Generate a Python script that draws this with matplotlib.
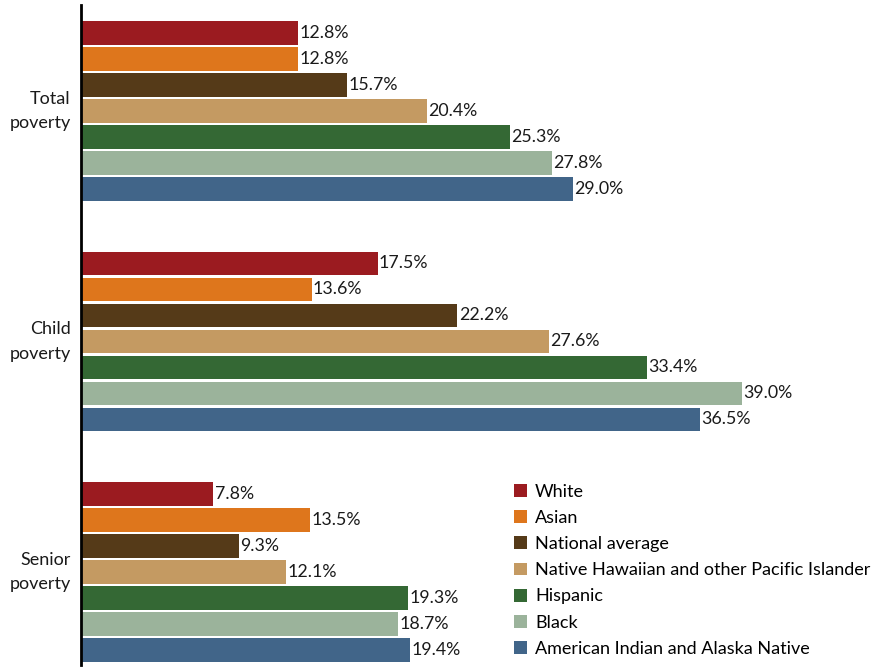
import matplotlib
matplotlib.use("Agg")
import matplotlib.pyplot as plt
from matplotlib.patches import Patch

plt.rcParams['font.family'] = ['Lato', 'DejaVu Sans']

categories = ["Total\npoverty", "Child\npoverty", "Senior\npoverty"]
series = ["White", "Asian", "National average",
          "Native Hawaiian and other Pacific Islander", "Hispanic", "Black",
          "American Indian and Alaska Native"]
values = {
    "White": [12.8, 17.5, 7.8],
    "Asian": [12.8, 13.6, 13.5],
    "National average": [15.7, 22.2, 9.3],
    "Native Hawaiian and other Pacific Islander": [20.4, 27.6, 12.1],
    "Hispanic": [25.3, 33.4, 19.3],
    "Black": [27.8, 39.0, 18.7],
    "American Indian and Alaska Native": [29.0, 36.5, 19.4],
}
colors = ["#9B1B20", "#DE761C", "#553A18", "#C49A62", "#346834", "#9BB39B", "#416589"]

W, H = 878, 671
fig = plt.figure(figsize=(W / 100, H / 100), dpi=100)
ax_left, ax_top, ax_bottom = 81, 5, 665
ax = fig.add_axes([ax_left / W, 1 - ax_bottom / H, 1 - ax_left / W, (ax_bottom - ax_top) / H])

group_step = 8.865
bar_h = 0.92
for i, (s, c) in enumerate(zip(series, colors)):
    ys = [g * group_step + i for g in range(len(categories))]
    ax.barh(ys, values[s], height=bar_h, color=c, label=s)
    for y, v in zip(ys, values[s]):
        ax.text(v + 0.08, y, f"{v:.1f}%", va="center", ha="left", fontsize=12.8, color="#1a1a1a")

for g, cat in enumerate(categories):
    ax.text(-0.6, g * group_step + 3, cat, ha="right", va="center", fontsize=13,
            color="#1a1a1a", linespacing=1.65)

ax.set_xlim(0, (W - ax_left) / 16.95)
top = -28 / 26
ax.set_ylim(top + (ax_bottom - ax_top) / 26, top)
for sp in ["top", "right", "bottom"]:
    ax.spines[sp].set_visible(False)
ax.spines["left"].set_linewidth(2)
ax.spines["left"].set_color("black")
ax.set_xticks([])
ax.set_yticks([])

handles = [Patch(facecolor=c, edgecolor="none") for c in colors]
fig.legend(handles, series, loc="upper left", bbox_to_anchor=(514 / W, 1 - 484 / H),
           frameon=False, fontsize=13, handlelength=0.72, handleheight=0.72,
           handletextpad=0.45, labelspacing=0.56, borderpad=0, borderaxespad=0)

fig.savefig("out.png", dpi=100)
